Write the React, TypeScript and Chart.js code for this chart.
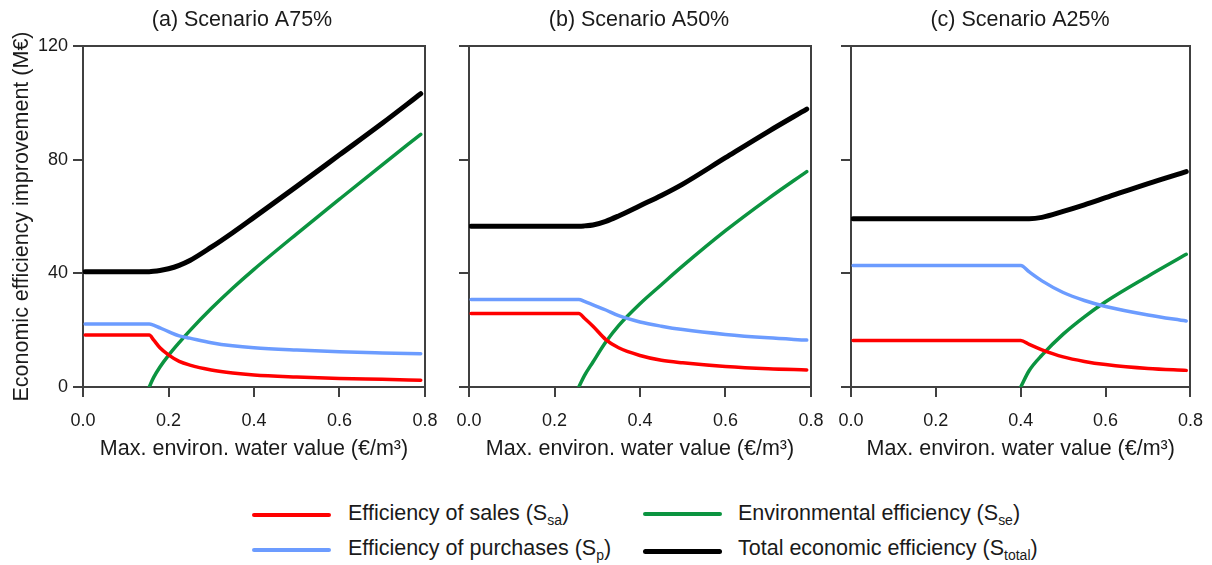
import React, { useEffect, useRef } from 'react';
import { Chart, registerables } from 'chart.js';

Chart.register(...registerables);

const FONT = "'Liberation Sans', Arial, Helvetica, sans-serif";
const TEXT = '#1a1a1a';
const AXIS = '#404040';
const RED = '#ff0000';
const BLUE = '#6c9cff';
const GREEN = '#0b9440';
const BLACK = '#000000';

const X_TICKS = [0, 0.2, 0.4, 0.6, 0.8];
const Y_TICKS = [0, 40, 80, 120];
const X_TITLE = 'Max. environ. water value (€/m³)';
const Y_TITLE = 'Economic efficiency improvement (M€)';

// Panel (a) Scenario A75%
const X_A = [0.005, 0.08, 0.155, 0.165, 0.18, 0.2, 0.225, 0.25, 0.3, 0.35, 0.4, 0.5, 0.6, 0.7, 0.79];
const SALES_A = [18.3, 18.3, 18.3, 16.6, 13.8, 11.3, 9.0, 7.7, 6.0, 4.9, 4.2, 3.5, 3.0, 2.7, 2.4];
const PURCH_A = [22.2, 22.2, 22.2, 21.8, 20.8, 19.5, 18.0, 17.2, 15.6, 14.5, 13.8, 13.0, 12.4, 12.0, 11.7];
const ENV_A = [null, null, 0, 3.3, 7.05, 11.15, 15.65, 19.85, 27.6, 34.75, 41.4, 53.9, 66.1, 78.2, 88.9];
const TOTAL_A = [40.6, 40.6, 40.6, 40.7, 41.0, 41.6, 42.8, 44.5, 49.2, 54.3, 59.7, 70.6, 81.7, 92.8, 103.2];

// Panel (b) Scenario A50%
const X_B = [0.005, 0.1, 0.2, 0.257, 0.27, 0.29, 0.32, 0.35, 0.4, 0.45, 0.5, 0.6, 0.7, 0.79];
const SALES_B = [25.9, 25.9, 25.9, 25.9, 24.2, 21.4, 16.7, 13.8, 11.1, 9.4, 8.5, 7.2, 6.4, 6.0];
const PURCH_B = [30.8, 30.8, 30.8, 30.8, 30.1, 28.9, 27.1, 25.1, 22.9, 21.4, 20.2, 18.5, 17.3, 16.5];
const ENV_B = [null, null, null, 0, 4.0, 8.8, 15.8, 21.6, 29.3, 36.0, 42.6, 55.0, 66.3, 75.8];
const TOTAL_B = [56.6, 56.6, 56.6, 56.6, 56.7, 57.0, 58.3, 60.2, 63.8, 67.4, 71.4, 80.7, 89.9, 97.8];

// Panel (c) Scenario A25%
const X_C = [0.005, 0.1, 0.2, 0.3, 0.4, 0.42, 0.45, 0.5, 0.55, 0.6, 0.7, 0.79];
const SALES_C = [16.4, 16.4, 16.4, 16.4, 16.4, 15.0, 13.1, 10.6, 9.0, 7.9, 6.5, 5.85];
const PURCH_C = [42.8, 42.8, 42.8, 42.8, 42.8, 40.5, 37.35, 33.25, 30.45, 28.35, 25.35, 23.2];
const ENV_C = [null, null, null, null, 0, 5.8, 11.2, 18.6, 24.7, 30.0, 39.0, 46.7];
const TOTAL_C = [59.2, 59.2, 59.2, 59.2, 59.2, 59.2, 59.7, 61.8, 64.1, 66.6, 71.6, 75.8];

type PanelDef = {
  title: string;
  x: number[];
  sales: (number | null)[];
  purchases: (number | null)[];
  env: (number | null)[];
  total: (number | null)[];
  left: number;
  width: number;
  yWidth: number;
  padRight: number;
  showY: boolean;
};

const PANELS: PanelDef[] = [
  { title: '(a) Scenario A75%', x: X_A, sales: SALES_A, purchases: PURCH_A, env: ENV_A, total: TOTAL_A, left: 0, width: 484, yWidth: 83, padRight: 59, showY: true },
  { title: '(b) Scenario A50%', x: X_B, sales: SALES_B, purchases: PURCH_B, env: ENV_B, total: TOTAL_B, left: 440, width: 398, yWidth: 29, padRight: 27, showY: false },
  { title: '(c) Scenario A25%', x: X_C, sales: SALES_C, purchases: PURCH_C, env: ENV_C, total: TOTAL_C, left: 824, width: 392, yWidth: 27, padRight: 24, showY: false },
];

const framePlugin = {
  id: 'frame',
  beforeDatasetsDraw(chart: any) {
    const { ctx, chartArea } = chart;
    const { left, top, right, bottom } = chartArea;
    ctx.save();
    ctx.strokeStyle = AXIS;
    ctx.lineWidth = 2;
    ctx.beginPath();
    ctx.moveTo(left, Math.round(top));
    ctx.lineTo(Math.round(right), Math.round(top));
    ctx.lineTo(Math.round(right), bottom);
    ctx.stroke();
    ctx.restore();
  },
};

const H = 470;

function Panel({ p }: { p: PanelDef }) {
  const ref = useRef<HTMLCanvasElement>(null);
  useEffect(() => {
    const pts = (ys: (number | null)[]) => p.x.map((xv, i) => ({ x: xv, y: ys[i] }));
    const line = (label: string, ys: (number | null)[], color: string, w: number) => ({
      label,
      data: pts(ys),
      xAxisID: 'x',
      yAxisID: 'y',
      borderColor: color,
      backgroundColor: color,
      borderWidth: w,
      pointRadius: 0,
      cubicInterpolationMode: 'monotone',
      fill: false,
      borderCapStyle: 'round',
      borderJoinStyle: 'round',
    });
    const chart = new Chart(ref.current as HTMLCanvasElement, {
      type: 'line',
      data: {
        datasets: [
          line('Total economic efficiency', p.total, BLACK, 5),
          line('Efficiency of sales', p.sales, RED, 3.5),
          line('Efficiency of purchases', p.purchases, BLUE, 3.5),
          line('Environmental efficiency', p.env, GREEN, 3.5),
        ] as any,
      },
      options: {
        animation: false,
        responsive: false,
        devicePixelRatio: 1,
        layout: { padding: { left: 0, right: 0, top: 0, bottom: 3 } },
        plugins: {
          legend: { display: false },
          tooltip: { enabled: false },
          title: {
            display: true,
            text: p.title,
            color: TEXT,
            font: { family: FONT, size: 21.5, weight: 'normal' },
            padding: { top: 7.1, bottom: 13.1 },
          },
        },
        scales: {
          x: {
            type: 'linear',
            min: 0,
            max: 0.8,
            afterFit: (s: any) => { s.height = 80; },
            afterBuildTicks: (s: any) => { s.ticks = X_TICKS.map((v) => ({ value: v })); },
            ticks: {
              callback: (v: any) => Number(v).toFixed(1),
              font: { family: FONT, size: 18 },
              color: TEXT,
              padding: 13,
              maxRotation: 0,
              autoSkip: false,
            },
            grid: { drawOnChartArea: false, drawTicks: true, tickLength: 10, color: AXIS, lineWidth: 2 },
            border: { display: true, color: AXIS, width: 2 },
            title: {
              display: true,
              text: X_TITLE,
              color: TEXT,
              font: { family: FONT, size: 21.5 },
              padding: { top: 0, bottom: 4.6 },
            },
          },
          y: {
            type: 'linear',
            position: 'left',
            min: 0,
            max: 120,
            afterFit: (s: any) => { s.width = p.yWidth; },
            afterBuildTicks: (s: any) => { s.ticks = Y_TICKS.map((v) => ({ value: v })); },
            ticks: {
              callback: (v: any) => (p.showY ? String(v) : ''),
              font: { family: FONT, size: 18 },
              color: TEXT,
              padding: 5,
              autoSkip: false,
            },
            grid: { drawOnChartArea: false, drawTicks: true, tickLength: 10, color: AXIS, lineWidth: 2 },
            border: { display: true, color: AXIS, width: 2 },
            title: {
              display: p.showY,
              text: Y_TITLE,
              color: TEXT,
              font: { family: FONT, size: 21.5 },
              padding: { top: 9.1, bottom: 0 },
            },
          },
          yRight: {
            type: 'linear',
            position: 'right',
            display: true,
            min: 0,
            max: 1,
            afterFit: (s: any) => { s.width = p.padRight; },
            ticks: { display: false },
            grid: { display: false, drawTicks: false },
            border: { display: false },
            title: { display: false },
          },
        },
      } as any,
      plugins: [framePlugin],
    });
    return () => chart.destroy();
  }, []);
  return (
    <canvas
      ref={ref}
      width={p.width}
      height={H}
      style={{ position: 'absolute', left: p.left, top: 0, width: p.width, height: H }}
    />
  );
}

const legendText: React.CSSProperties = {
  position: 'absolute',
  fontFamily: FONT,
  fontSize: 21.5,
  lineHeight: '24px',
  color: TEXT,
  whiteSpace: 'nowrap',
};
const subStyle: React.CSSProperties = { fontSize: '0.65em', lineHeight: 0, verticalAlign: '-0.35em' };

export default function App() {
  return (
    <div style={{ position: 'absolute', left: 0, top: 0, width: 1212, height: 565, background: '#fff', overflow: 'hidden' }}>
      {PANELS.map((p, i) => (
        <Panel key={i} p={p} />
      ))}
      <div style={{ position: 'absolute', left: 252, top: 513, width: 79, height: 4, background: RED, borderRadius: 2 }} />
      <div style={{ ...legendText, left: 348, top: 500.7 }}>
        Efficiency of sales (S<span style={subStyle}>sa</span>)
      </div>
      <div style={{ position: 'absolute', left: 252, top: 548, width: 79, height: 4, background: BLUE, borderRadius: 2 }} />
      <div style={{ ...legendText, left: 348, top: 536 }}>
        Efficiency of purchases (S<span style={subStyle}>p</span>)
      </div>
      <div style={{ position: 'absolute', left: 643, top: 512.3, width: 79, height: 4, background: GREEN, borderRadius: 2 }} />
      <div style={{ ...legendText, left: 738, top: 500.7 }}>
        Environmental efficiency (S<span style={subStyle}>se</span>)
      </div>
      <div style={{ position: 'absolute', left: 643, top: 548.5, width: 79, height: 5, background: BLACK, borderRadius: 2.5 }} />
      <div style={{ ...legendText, left: 738, top: 536 }}>
        Total economic efficiency (S<span style={subStyle}>total</span>)
      </div>
    </div>
  );
}
